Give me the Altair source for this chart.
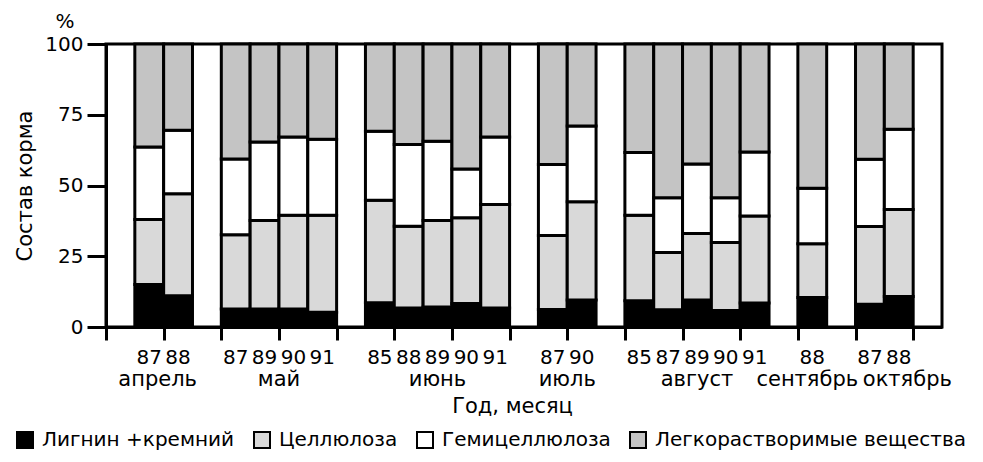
import altair as alt
import pandas as pd

# ---- data ----
months = ["апрель", "май", "июнь", "июль", "август", "сентябрь", "октябрь"]
years = [["87", "88"], ["87", "89", "90", "91"], ["85", "88", "89", "90", "91"],
         ["87", "90"], ["85", "87", "89", "90", "91"], ["88"], ["87", "88"]]

components = ["Лигнин +кремний", "Целлюлоза", "Гемицеллюлоза", "Легкорастворимые  вещества"]
lignin = [15.0, 11.0, 6.4, 6.4, 6.4, 5.2, 8.6, 6.7, 7.1, 8.3, 6.7, 6.2, 9.5, 9.3, 6.1, 9.5, 5.8, 8.5, 10.4, 8.0, 10.8]
cellulose = [23.0, 36.1, 26.2, 31.2, 33.1, 34.3, 36.2, 28.9, 30.5, 30.3, 36.6, 26.1, 34.8, 30.2, 20.2, 23.5, 24.1, 30.7, 19.0, 27.5, 30.7]
hemicellulose = [25.6, 22.4, 26.8, 27.8, 27.6, 26.8, 24.4, 28.9, 28.0, 17.2, 23.8, 25.1, 26.7, 22.2, 19.4, 24.6, 15.8, 22.6, 19.6, 23.8, 28.4]
soluble = [36.4, 30.5, 40.6, 34.6, 32.9, 33.7, 30.8, 35.5, 34.4, 44.2, 32.9, 42.6, 29.0, 38.3, 54.3, 42.4, 54.3, 38.2, 51.0, 40.7, 30.1]
y_ticks = [0, 25, 50, 75, 100]

# ---- build tables (one empty slot before each month group and after the last) ----
series = [lignin, cellulose, hemicellulose, soluble]
bar_rows, year_rows, month_rows = [], [], []
slot = 1
i = 0
for m, ys in zip(months, years):
    first = slot
    for yr in ys:
        cum = 0.0
        for comp, vals in zip(components, series):
            v = vals[i]
            bar_rows.append({"x0": slot, "x1": slot + 1, "y0": cum, "y1": cum + v, "comp": comp})
            cum += v
        year_rows.append({"x0": slot + 0.5, "label": yr})
        slot += 1
        i += 1
    month_rows.append({"x0": (first + slot) / 2, "label": m})
    slot += 1
n_slots = slot

bars_df = pd.DataFrame(bar_rows)
years_df = pd.DataFrame(year_rows)
months_df = pd.DataFrame(month_rows)

FONT = "DejaVu Sans"
colors = ["#000000", "#d9d9d9", "#ffffff", "#c4c4c4"]

xscale = alt.Scale(domain=[0, n_slots], nice=False, zero=False)
yscale = alt.Scale(domain=[0, 100], nice=False)

bars = alt.Chart(bars_df).mark_bar(stroke="black", strokeWidth=3).encode(
    x=alt.X("x0:Q", scale=xscale,
            axis=alt.Axis(values=list(range(n_slots + 1)), labels=False, tickSize=13, tickWidth=3,
                          domainWidth=3, grid=False, title="Год, месяц",
                          titleX=406, titleY=85, titleBaseline="alphabetic", titleAlign="center",
                          titleFontSize=21, titleFontWeight="normal")),
    x2="x1:Q",
    y=alt.Y("y0:Q", scale=yscale,
            axis=alt.Axis(values=y_ticks, tickSize=19, tickWidth=3, domainWidth=3, grid=False,
                          labelFontSize=20, labelPadding=4, title="Состав корма",
                          titleX=-81, titleY=141.5, titleAngle=-90, titleBaseline="middle",
                          titleAlign="center", titleFontSize=21, titleFontWeight="normal")),
    y2="y1:Q",
    fill=alt.Fill("comp:N", scale=alt.Scale(domain=components, range=colors),
                  legend=alt.Legend(title=None, orient="none", legendX=-91, legendY=386,
                                    direction="horizontal", columns=4, symbolType="square",
                                    symbolSize=256, symbolStrokeColor="black", symbolStrokeWidth=2,
                                    symbolOpacity=1, labelFontSize=20, labelOffset=7, labelLimit=0,
                                    columnPadding=15, labelColor="black")),
)

year_text = alt.Chart(years_df).mark_text(fontSize=20, baseline="alphabetic", align="center",
                                          font=FONT, color="black").encode(
    x=alt.X("x0:Q", scale=xscale), y=alt.value(320), text="label:N")

month_dx = {"апрель": -6, "сентябрь": -5, "октябрь": 23}
month_layers = []
for m in months:
    month_layers.append(
        alt.Chart(months_df).transform_filter(alt.datum.label == m)
        .mark_text(fontSize=21, baseline="alphabetic", align="center", font=FONT, color="black",
                   dx=month_dx.get(m, 0))
        .encode(x=alt.X("x0:Q", scale=xscale), y=alt.value(342), text="label:N")
    )

pct = alt.Chart(pd.DataFrame({"t": ["%"]})).mark_text(
    fontSize=20, baseline="alphabetic", align="center", font=FONT, color="black").encode(
    x=alt.value(-41), y=alt.value(-16), text="t:N")

chart = alt.layer(bars, year_text, *month_layers, pct).properties(
    width=836, height=283,
    autosize=alt.AutoSizeParams(type="none"),
    padding={"left": 98, "top": 36, "right": 24, "bottom": 127},
).configure(font=FONT).configure_view(stroke="black", strokeWidth=3).configure_axis(
    domainColor="black", tickColor="black", labelColor="black", titleColor="black",
    labelFont=FONT, titleFont=FONT
).configure_legend(labelFont=FONT)

chart.save("out.html", embed_options={"renderer": "svg", "actions": False})
